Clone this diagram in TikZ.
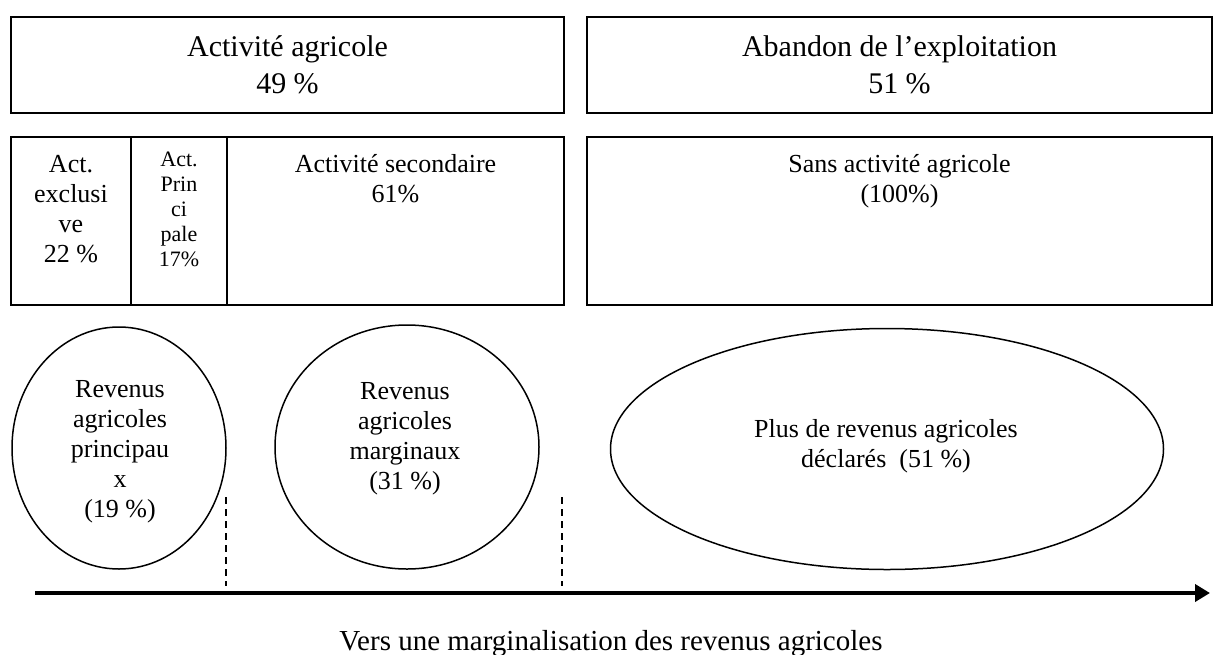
\documentclass[tikz,border=0pt]{standalone}
\usepackage{fontspec}
\setmainfont{Liberation Serif}
\usetikzlibrary{shapes.geometric,arrows.meta}
\tikzset{
  boxA/.style={draw, line width=1.5pt, rectangle, inner sep=0pt},
  ell/.style={draw, line width=1.5pt, ellipse, inner sep=0pt},
  bigtxt/.style={align=center, inner sep=0pt, font=\fontsize{30}{37}\selectfont},
  midtxt/.style={align=center, inner sep=0pt, font=\fontsize{26}{30}\selectfont},
  smalltxt/.style={align=center, inner sep=0pt, font=\fontsize{22}{25}\selectfont},
  sepline/.style={line width=1.5pt, dash pattern=on 7pt off 5pt},
  axis/.style={line width=4pt, -{Triangle[length=15pt,width=17pt]}}
}
\begin{document}
\begin{tikzpicture}[x=1pt,y=-1pt]
\useasboundingbox (0,0) rectangle (1224,654);
% top row
\node[boxA, minimum width=553pt, minimum height=96pt] (agri) at (287.5,65) {};
\node[bigtxt] (agritxt) at (agri.center) {Activité agricole\\49 \%};
\node[boxA, minimum width=625pt, minimum height=96pt] (aband) at (899.5,65) {};
\node[bigtxt] (abandtxt) at (aband.center) {Abandon de l’exploitation\\51 \%};
% second row
\node[boxA, minimum width=120pt, minimum height=168pt] (excl) at (71,221) {};
\node[boxA, minimum width=96pt, minimum height=168pt] (princ) at (179,221) {};
\node[boxA, minimum width=337pt, minimum height=168pt] (second) at (395.5,221) {};
\node[boxA, minimum width=625pt, minimum height=168pt] (sans) at (899.5,221) {};
\node[midtxt, anchor=north] (excltxt) at (71,155) {Act.\\exclusi\\ve\\22 \%};
\node[smalltxt, anchor=north] (princtxt) at (179,152) {Act.\\Prin\\ci\\pale\\17\%};
\node[midtxt, anchor=north] (secondtxt) at (395.5,154) {Activité secondaire\\61\%};
\node[midtxt, anchor=north] (sanstxt) at (899.5,154) {Sans activité agricole\\(100\%)};
% ellipses
\node[ell, minimum width=214pt, minimum height=242pt] (revp) at (119,448) {};
\node[midtxt] (revptxt) at (120,452) {Revenus\\agricoles\\principau\\x\\(19 \%)};
\node[ell, minimum width=264pt, minimum height=244pt] (revm) at (407,447) {};
\node[midtxt] (revmtxt) at (405,439) {Revenus\\agricoles\\marginaux\\(31 \%)};
\node[ell, minimum width=553pt, minimum height=241pt] (plus) at (887,449) {};
\node[midtxt] (plustxt) at (886,446) {Plus de revenus agricoles\\déclarés\ \ (51 \%)};
% dashed separators
\coordinate (d1a) at (226,497);
\coordinate (d1b) at (226,586);
\coordinate (d2a) at (562,497);
\coordinate (d2b) at (562,586);
\draw[sepline] (d1a) -- (d1b);
\draw[sepline] (d2a) -- (d2b);
% axis
\coordinate (axs) at (35,593);
\coordinate (axe) at (1210,593);
\draw[axis] (axs) -- (axe);
\node[align=center, inner sep=0pt, font=\fontsize{29}{32}\selectfont, anchor=base] (axtxt) at (611,650) {Vers une marginalisation des revenus agricoles};
\end{tikzpicture}
\end{document}
